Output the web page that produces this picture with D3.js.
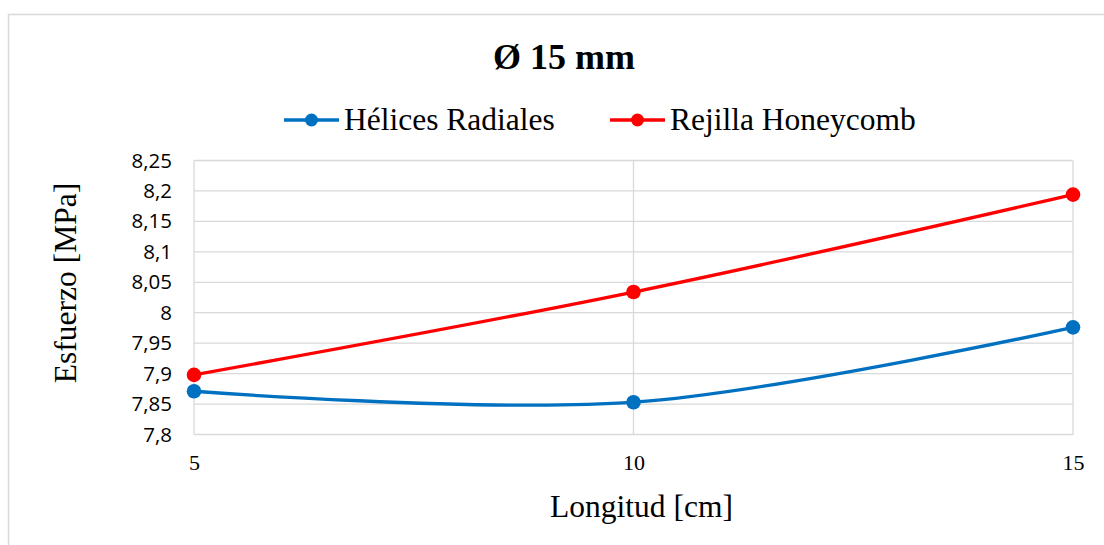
<!DOCTYPE html>
<html>
<head>
<meta charset="utf-8">
<script src="https://cdn.jsdelivr.net/npm/d3@7"></script>
<style>
  html, body { margin: 0; padding: 0; background: #ffffff; }
  svg { display: block; }
</style>
</head>
<body>
<svg id="chart" width="1104" height="545"></svg>
<script>
// Esfuerzo vs. longitud, diámetro 15 mm
const longitudes = [5, 10, 15];
const helicesRadiales = [7.871, 7.853, 7.976];
const rejillaHoneycomb = [7.898, 8.034, 8.194];
const seriesNames = ["Hélices Radiales", "Rejilla Honeycomb"];
const seriesColors = ["#0070C0", "#FF0000"];
const yTicks = [7.8, 7.85, 7.9, 7.95, 8.0, 8.05, 8.1, 8.15, 8.2, 8.25];
const yTickLabels = ["7,8", "7,85", "7,9", "7,95", "8", "8,05", "8,1", "8,15", "8,2", "8,25"];
const xTicks = [5, 10, 15];
const xTickLabels = ["5", "10", "15"];

const svg = d3.select("#chart");
const serif = "'Liberation Serif', 'Times New Roman', serif";
const sans = "'Open Sans', 'Noto Sans', sans-serif";
const gridColor = "#d9d9d9";

// chart frame
svg.append("rect")
  .attr("x", 8.5).attr("y", 14.5)
  .attr("width", 1200).attr("height", 700)
  .attr("fill", "none").attr("stroke", gridColor).attr("stroke-width", 1.5);

const x = d3.scaleLinear().domain([5, 15]).range([194, 1073]);
const y = d3.scaleLinear().domain([7.8, 8.25]).range([434.5, 160.5]);

// gridlines
const grid = svg.append("g");
grid.selectAll("line.h").data(yTicks).join("line")
  .attr("x1", x(5)).attr("x2", x(15))
  .attr("y1", d => y(d)).attr("y2", d => y(d))
  .attr("stroke", gridColor).attr("stroke-width", 1.3);
grid.selectAll("line.v").data(xTicks).join("line")
  .attr("x1", d => x(d)).attr("x2", d => x(d))
  .attr("y1", y(7.8)).attr("y2", y(8.25))
  .attr("stroke", gridColor).attr("stroke-width", 1.3);

// y axis labels
const yAxis = d3.axisLeft(y).tickValues(yTicks)
  .tickFormat((d, i) => yTickLabels[i]).tickSize(0).tickPadding(22);
svg.append("g").attr("transform", `translate(${x(5)},0)`).call(yAxis)
  .call(g => g.select(".domain").remove())
  .selectAll("text")
  .style("font-family", sans).style("font-size", "20.5px")
  .attr("fill", "#000");

// x axis labels
const xAxis = d3.axisBottom(x).tickValues(xTicks)
  .tickFormat((d, i) => xTickLabels[i]).tickSize(0).tickPadding(20);
svg.append("g").attr("transform", `translate(0,${y(7.8)})`).call(xAxis)
  .call(g => g.select(".domain").remove())
  .selectAll("text")
  .style("font-family", serif).style("font-size", "22px")
  .attr("fill", "#000");

// series lines and markers
const seriesValues = [helicesRadiales, rejillaHoneycomb];
const line = d3.line()
  .x(d => x(d[0])).y(d => y(d[1]))
  .curve(d3.curveCardinal.tension(0));

seriesValues.forEach((vals, s) => {
  const pts = longitudes.map((l, i) => [l, vals[i]]);
  svg.append("path").datum(pts)
    .attr("d", line)
    .attr("fill", "none")
    .attr("stroke", seriesColors[s])
    .attr("stroke-width", 3.3)
    .attr("stroke-linejoin", "round");
  svg.append("g").selectAll("circle").data(pts).join("circle")
    .attr("cx", d => x(d[0])).attr("cy", d => y(d[1]))
    .attr("r", 7.3).attr("fill", seriesColors[s]);
});

// title
svg.append("text")
  .attr("x", 564).attr("y", 69)
  .attr("text-anchor", "middle")
  .attr("font-family", serif).attr("font-weight", "bold").attr("font-size", 36)
  .attr("fill", "#000")
  .text("Ø 15 mm");

// legend
const legendX = [284, 610];
const legend = svg.append("g");
seriesNames.forEach((name, s) => {
  const lx = legendX[s];
  legend.append("line")
    .attr("x1", lx).attr("x2", lx + 55)
    .attr("y1", 120).attr("y2", 120)
    .attr("stroke", seriesColors[s]).attr("stroke-width", 3.3);
  legend.append("circle")
    .attr("cx", lx + 27.5).attr("cy", 120).attr("r", 6.5)
    .attr("fill", seriesColors[s]);
  legend.append("text")
    .attr("x", lx + 60).attr("y", 129.5)
    .attr("font-family", serif).attr("font-size", 31.5).attr("fill", "#000")
    .text(name);
});

// axis titles
svg.append("text")
  .attr("x", 641.5).attr("y", 517)
  .attr("text-anchor", "middle")
  .attr("font-family", serif).attr("font-size", 31.5).attr("fill", "#000")
  .text("Longitud [cm]");

svg.append("text")
  .attr("transform", "translate(76,283) rotate(-90)")
  .attr("text-anchor", "middle")
  .attr("font-family", serif).attr("font-size", 31.5).attr("fill", "#000")
  .text("Esfuerzo [MPa]");
</script>
</body>
</html>
